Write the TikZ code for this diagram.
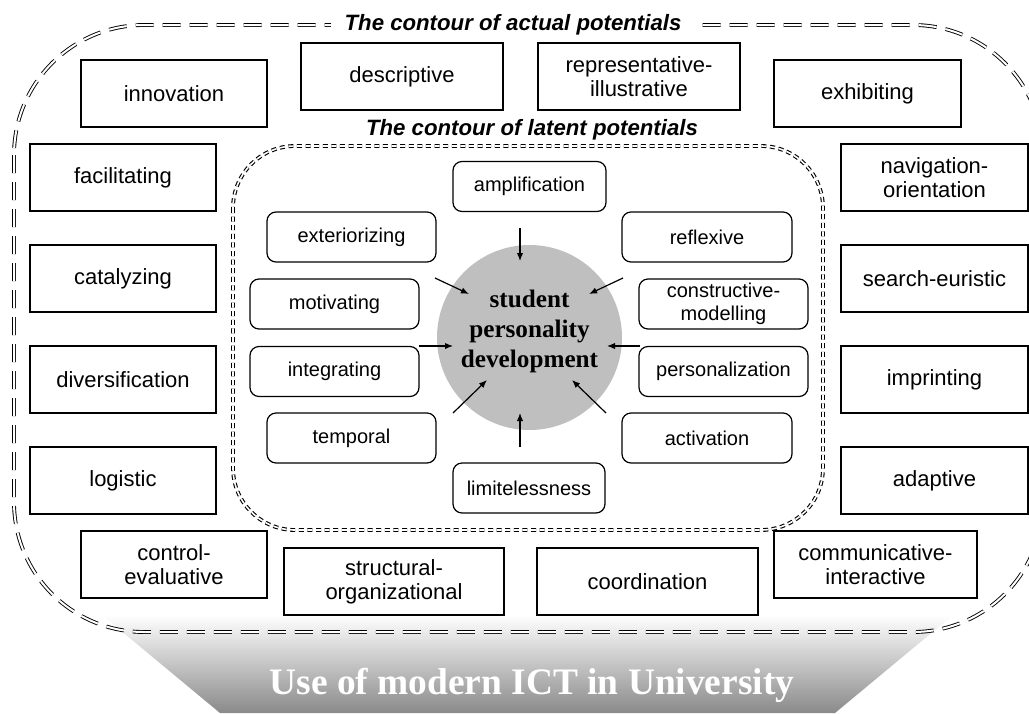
\documentclass[tikz,border=0pt]{standalone}
\usepackage{fontspec}
\setmainfont{Liberation Serif}
\setsansfont{Liberation Sans}
\usetikzlibrary{arrows.meta}
\tikzset{
  obox/.style={draw, line width=0.6pt, fill=white, font=\sffamily\fontsize{11}{12}\selectfont, align=center, inner sep=0pt, minimum height=33.5pt},
  ibox/.style={draw, line width=0.6pt, fill=white, rounded corners=4.5pt, font=\sffamily\fontsize{10}{11.5}\selectfont, align=center, inner sep=0pt, minimum height=25pt},
  arr/.style={-{Latex[length=4pt,width=3.2pt]}, line width=0.6pt},
  ctitle/.style={font=\sffamily\bfseries\itshape\fontsize{11.1}{13}\selectfont, inner sep=0pt}
}
\begin{document}
\begin{tikzpicture}[x=0.5pt,y=-0.5pt]
\useasboundingbox (0,0) rectangle (1029,713);
\clip (0,0) rectangle (1029,713);
\fill[white] (0,0) rectangle (1029,713);

% gradient base
\shade[top color=white, bottom color=black!46] (220,713) -- (102,615) -- (953,615) -- (835,713) -- cycle;

% outer contour
\draw[line width=0.45pt, double=white, double distance=1pt, dash pattern=on 9pt off 4.5pt, rounded corners=65pt] (14,25) rectangle (1043,632);
% inner contour
\draw[line width=0.55pt, double=white, double distance=0.8pt, dash pattern=on 2.5pt off 1.8pt, rounded corners=31pt] (233,146) rectangle (823,530);

% titles
\node[ctitle, fill=white, inner xsep=7pt, inner ysep=2pt] (tact) at (513,25) {The contour of actual potentials};
\node[ctitle] (tlat) at (532,130) {The contour of latent potentials};

% outer boxes
\node[obox, minimum width=93pt] (innov) at (174,93.5) {innovation};
\node[obox, minimum width=101pt] (descr) at (402,76.5) {descriptive};
\node[obox, minimum width=101pt] (repr) at (639,76.5) {representative-\\illustrative};
\node[obox, minimum width=93.5pt] (exhib) at (867.5,93.5) {exhibiting};
\node[obox, minimum width=93pt] (facil) at (123,177.5) {facilitating};
\node[obox, minimum width=93pt] (catal) at (123,278.5) {catalyzing};
\node[obox, minimum width=93pt] (diver) at (123,379.5) {diversification};
\node[obox, minimum width=93pt] (logis) at (123,480.5) {logistic};
\node[obox, minimum width=93pt] (contr) at (174,564.5) {control-\\evaluative};
\node[obox, minimum width=110pt] (struc) at (394,581.5) {structural-\\organizational};
\node[obox, minimum width=110.5pt] (coord) at (647.5,581.5) {coordination};
\node[obox, minimum width=101.5pt] (commu) at (875.5,564.5) {communicative-\\interactive};
\node[obox, minimum width=93.5pt] (navig) at (934.5,177.5) {navigation-\\orientation};
\node[obox, minimum width=93.5pt] (searc) at (934.5,278.5) {search-euristic};
\node[obox, minimum width=93.5pt] (impri) at (934.5,379.5) {imprinting};
\node[obox, minimum width=93.5pt] (adapt) at (934.5,480.5) {adaptive};

% inner boxes
\node[ibox, minimum width=76.5pt] (ampli) at (529.5,186.5) {amplification};
\node[ibox, minimum width=84.5pt] (exter) at (351.5,237) {exteriorizing};
\node[ibox, minimum width=85pt] (refle) at (707,237) {reflexive};
\node[ibox, minimum width=84.5pt] (motiv) at (334.5,304) {motivating};
\node[ibox, minimum width=84.5pt] (const) at (723.5,304) {constructive-\\modelling};
\node[ibox, minimum width=84.5pt] (integ) at (334.5,371.5) {integrating};
\node[ibox, minimum width=84.5pt] (perso) at (723.5,371.5) {personalization};
\node[ibox, minimum width=84.5pt] (tempo) at (351.5,438) {temporal};
\node[ibox, minimum width=85pt] (activ) at (707,438) {activation};
\node[ibox, minimum width=76pt] (limit) at (529,488) {limitelessness};

% centre
\node[circle, fill=black!25, minimum size=92.5pt, inner sep=0pt] (spd) at (529.5,337.5) {};
\node[font=\bfseries\fontsize{12.6}{15}\selectfont, align=center, inner sep=0pt] (spdtext) at (529.5,331) {student\\personality\\development};

% arrow ends
\coordinate (a1s) at (520,228); \coordinate (a1e) at (520,261);
\coordinate (a2s) at (520,447); \coordinate (a2e) at (520,413);
\coordinate (a3s) at (419,346); \coordinate (a3e) at (453,346);
\coordinate (a4s) at (640,346); \coordinate (a4e) at (607,346);
\coordinate (a5s) at (435,278); \coordinate (a5e) at (469,294);
\coordinate (a6s) at (623,278); \coordinate (a6e) at (589,294);
\coordinate (a7s) at (453,413); \coordinate (a7e) at (487,380);
\coordinate (a8s) at (606,413); \coordinate (a8e) at (572,380);
\draw[arr] (a1s) -- (a1e);
\draw[arr] (a2s) -- (a2e);
\draw[arr] (a3s) -- (a3e);
\draw[arr] (a4s) -- (a4e);
\draw[arr] (a5s) -- (a5e);
\draw[arr] (a6s) -- (a6e);
\draw[arr] (a7s) -- (a7e);
\draw[arr] (a8s) -- (a8e);

% base label
\node[font=\bfseries\fontsize{18.7}{22}\selectfont, text=white, anchor=base, inner sep=0pt] (ict) at (532,694) {Use of modern ICT in University};
\end{tikzpicture}
\end{document}
